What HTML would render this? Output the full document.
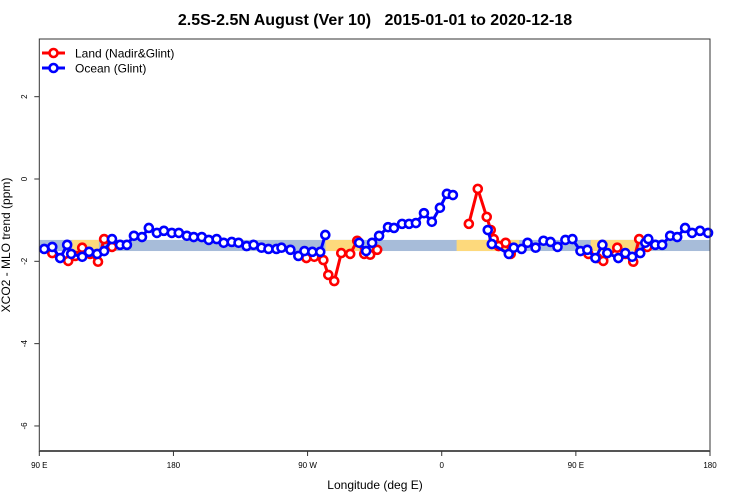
<!DOCTYPE html>
<html><head><meta charset="utf-8"><style>
body{margin:0;background:#fff}
svg{display:block;font-family:"Liberation Sans",sans-serif}
</style></head><body>
<svg id="chart" width="750" height="500"></svg>
<script>
const blueLon=[3.3,8.7,14.0,18.7,21.4,28.8,33.4,38.8,43.5,48.8,54.2,58.8,63.5,68.9,73.5,78.9,83.6,88.9,93.6,99.0,103.6,109.0,113.7,119.0,123.7,129.1,133.7,139.1,143.8,149.1,153.8,159.1,162.5,168.5,173.8,177.9,183.2,188.5,191.9,null,214.6,219.3,223.3,228.0,234.0,238.0,243.4,248.1,252.7,258.1,263.4,268.8,273.5,277.5,null,300.9,303.6,315.0,318.3,323.6,327.6,333.0,338.3,343.0,347.7,353.0,357.7,363.1,367.7,373.1,377.8,381.1,388.5,393.2,397.8,403.2,406.6,408.6,413.3,417.9,423.3,428.0,433.3,438.0,443.3,448.7];
const blueVal=[-1.70,-1.65,-1.92,-1.60,-1.82,-1.89,-1.77,-1.82,-1.75,-1.46,-1.60,-1.60,-1.38,-1.41,-1.19,-1.31,-1.26,-1.31,-1.31,-1.38,-1.41,-1.41,-1.48,-1.46,-1.55,-1.53,-1.55,-1.63,-1.60,-1.67,-1.70,-1.70,-1.67,-1.72,-1.87,-1.75,-1.77,-1.77,-1.36,null,-1.55,-1.75,-1.55,-1.38,-1.17,-1.19,-1.09,-1.09,-1.07,-0.83,-1.04,-0.70,-0.36,-0.39,null,-1.24,-1.58,-1.82,-1.67,-1.70,-1.55,-1.67,-1.50,-1.53,-1.65,-1.48,-1.46,-1.75,-1.72,-1.92,-1.60,-1.80,-1.92,-1.80,-1.89,-1.80,-1.55,-1.46,-1.60,-1.60,-1.38,-1.41,-1.19,-1.31,-1.26,-1.31];
const redLon=[8.7,19.4,24.1,28.8,34.1,39.4,43.5,48.8,null,179.2,184.5,190.6,193.9,197.9,202.6,208.6,213.3,218.0,222.0,226.7,null,288.2,294.2,300.2,302.9,304.9,308.2,312.9,316.3,null,368.4,374.4,378.4,387.8,393.2,398.5,402.5,407.9];
const redVal=[-1.80,-1.99,-1.87,-1.67,-1.82,-2.01,-1.46,-1.65,null,-1.92,-1.89,-1.97,-2.33,-2.48,-1.80,-1.82,-1.50,-1.82,-1.84,-1.72,null,-1.09,-0.24,-0.92,-1.24,-1.46,-1.63,-1.55,-1.82,null,-1.82,-1.92,-1.99,-1.67,-1.82,-2.01,-1.46,-1.65];
const landStart=[22,192,280,370];
const landEnd=[40,215,322,400];
const bandLow=-1.75, bandHigh=-1.48;
const xTickPos=[0,90,180,270,360,450];
const xTickLabels=["90 E","180","90 W","0","90 E","180"];
const yTicks=[2,0,-2,-4,-6];

const NS="http://www.w3.org/2000/svg";
const svg=document.getElementById('chart');
const L=39.3,R=710,T=39,B=451;
const xs=u=>L+(R-L)*u/450;
const ys=v=>179-41.16*v;
function mk(tag,attrs,parent){const e=document.createElementNS(NS,tag);for(const k in attrs)e.setAttribute(k,attrs[k]);(parent||svg).appendChild(e);return e;}

let t=mk('text',{x:375,y:25,'text-anchor':'middle','font-size':16,'font-weight':'bold'});


t.textContent="2.5S-2.5N August (Ver 10)\u00a0\u00a0\u00a02015-01-01 to 2020-12-18";

let band=mk('rect',{x:L,y:ys(bandHigh),width:R-L,height:ys(bandLow)-ys(bandHigh),fill:'#a7bcd9'});


landStart.forEach((s,i)=>{
  const r=mk('rect',{x:xs(s),y:ys(bandHigh),width:xs(landEnd[i])-xs(s),height:ys(bandLow)-ys(bandHigh),fill:'#fdd97c'});
  
  
});

function series(lon,val,color,name){
  const g=mk('g',{});
  
  
  let d='',pen=false;
  lon.forEach((u,i)=>{if(u===null||val[i]===null){pen=false;return;}d+=(pen?'L':'M')+xs(u).toFixed(1)+' '+ys(val[i]).toFixed(1);pen=true;});
  const p=mk('path',{d:d,fill:'none',stroke:color,'stroke-width':3},g);
  
  
  lon.forEach((u,i)=>{if(u===null||val[i]===null)return;
    const c=mk('circle',{cx:xs(u),cy:ys(val[i]),r:4,fill:'#fff',stroke:color,'stroke-width':2.6},g);
    
    
  });
}
series(redLon,redVal,'#ff0000','land');
series(blueLon,blueVal,'#0000ff','ocean');

let box=mk('rect',{x:L,y:T,width:R-L,height:B-T,fill:'none',stroke:'#333','stroke-width':1});


let xa=mk('line',{x1:L,x2:R,y1:B,y2:B,stroke:'#555','stroke-width':2});



xTickPos.forEach((u,i)=>{
  const l=mk('line',{x1:xs(u),x2:xs(u),y1:B,y2:B+5,stroke:'#333'});
  
  
  const tx=mk('text',{x:xs(u),y:468,'text-anchor':'middle','font-size':8});
  
  
  tx.textContent=xTickLabels[i];
});
yTicks.forEach(v=>{
  const l=mk('line',{x1:L-5,x2:L,y1:ys(v),y2:ys(v),stroke:'#333'});
  
  
  const tx=mk('text',{x:0,y:0,'text-anchor':'middle','font-size':8,transform:`translate(27,${ys(v)}) rotate(-90)`});
  
  
  tx.textContent=v;
});
let xl=mk('text',{x:375,y:489,'text-anchor':'middle','font-size':12});


xl.textContent="Longitude (deg E)";
let yl=mk('text',{x:0,y:0,'text-anchor':'middle','font-size':12,transform:'translate(10,245) rotate(-90)'});


yl.textContent="XCO2 - MLO trend (ppm)";

[["Land (Nadir&Glint)",'#ff0000',53],["Ocean (Glint)",'#0000ff',68]].forEach(([lab,c,y])=>{
  const g=mk('g',{});
  
  
  mk('line',{x1:42,x2:65,y1:y,y2:y,stroke:c,'stroke-width':3},g);
  mk('circle',{cx:53.5,cy:y,r:4,fill:'#fff',stroke:c,'stroke-width':2.6},g);
  const tx=mk('text',{x:75,y:y+4.5,'font-size':12},g);
  tx.textContent=lab;
});
</script>
</body></html>
